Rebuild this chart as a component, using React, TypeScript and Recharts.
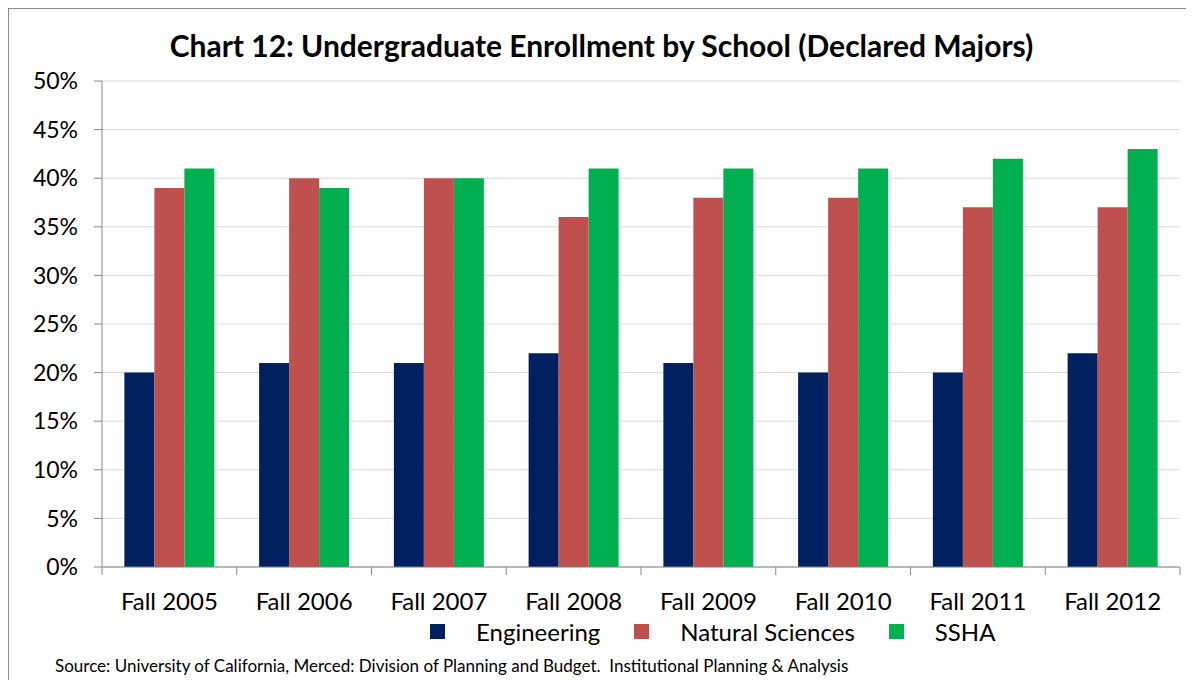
import { Bar, BarChart, CartesianGrid, Legend, XAxis, YAxis } from "recharts";

const categories = ["Fall 2005", "Fall 2006", "Fall 2007", "Fall 2008", "Fall 2009", "Fall 2010", "Fall 2011", "Fall 2012"];
const engineering = [20, 21, 21, 22, 21, 20, 20, 22];
const naturalSciences = [39, 40, 40, 36, 38, 38, 37, 37];
const ssha = [41, 39, 40, 41, 41, 41, 42, 43];
const yTicks = [0, 5, 10, 15, 20, 25, 30, 35, 40, 45, 50];

const series = [
  { key: "engineering", name: "Engineering", color: "#002060" },
  { key: "naturalSciences", name: "Natural Sciences", color: "#C0504D" },
  { key: "ssha", name: "SSHA", color: "#00B050" },
];

const data = categories.map((c, i) => ({
  year: c,
  engineering: engineering[i],
  naturalSciences: naturalSciences[i],
  ssha: ssha[i],
}));

const FONT = "Lato, 'Noto Sans', sans-serif";

// category label plus tick marks on the band edges, like Excel
function CategoryTick(props: any) {
  const { x, y, payload, index, visibleTicksCount } = props;
  const half = payload.offset || 0;
  const last = index === (visibleTicksCount ?? categories.length) - 1;
  return (
    <g>
      <line x1={x - half} x2={x - half} y1={y} y2={y + 8} stroke="#868686" />
      {last && <line x1={x + half} x2={x + half} y1={y} y2={y + 8} stroke="#868686" />}
      <text x={x} y={y + 43} textAnchor="middle" fontSize={24} fill="#000" fontFamily={FONT}>
        {payload.value}
      </text>
    </g>
  );
}

function LegendBox() {
  return (
    <div style={{ display: "flex", alignItems: "center", height: 40, paddingLeft: 421, fontFamily: FONT, fontSize: 24, color: "#000" }}>
      {series.map((s) => (
        <div key={s.key} style={{ display: "flex", alignItems: "center", marginRight: 34 }}>
          <span style={{ width: 15, height: 15, background: s.color, display: "inline-block", marginRight: 31 }} />
          <span>{s.name}</span>
        </div>
      ))}
    </div>
  );
}

export default function App() {
  return (
    <div
      style={{
        position: "relative",
        width: 1185,
        height: 671,
        borderLeft: "1px solid #8c8c8c",
        borderTop: "1px solid #8c8c8c",
        background: "#fff",
        fontFamily: FONT,
      }}
    >
      <div
        style={{
          position: "absolute",
          top: 18,
          left: 0,
          width: "100%",
          textAlign: "center",
          fontSize: 30,
          fontWeight: 700,
          color: "#000",
        }}
      >
        Chart 12: Undergraduate Enrollment by School (Declared Majors)
      </div>
      <BarChart
        width={1185}
        height={671}
        data={data}
        margin={{ top: 72, right: 14, left: 0, bottom: 29 }}
        barCategoryGap="16.6%"
        barGap={0}
      >
        <CartesianGrid vertical={false} stroke="#d9d9d9" />
        <XAxis
          dataKey="year"
          height={44}
          tickLine={false}
          tickSize={0}
          tickMargin={0}
          interval={0}
          axisLine={{ stroke: "#868686" }}
          tick={<CategoryTick />}
        />
        <YAxis
          domain={[0, 50]}
          ticks={yTicks}
          width={93}
          tickSize={8}
          tickMargin={16}
          axisLine={{ stroke: "#868686" }}
          tickLine={{ stroke: "#868686" }}
          tickFormatter={(v) => `${v}%`}
          tick={{ fontSize: 23, fill: "#000", fontFamily: FONT }}
          interval={0}
        />
        <Legend verticalAlign="bottom" content={() => <LegendBox />} />
        {series.map((s) => (
          <Bar key={s.key} dataKey={s.key} name={s.name} fill={s.color} isAnimationActive={false} />
        ))}
      </BarChart>
      <div style={{ position: "absolute", top: 646, left: 46, fontSize: 17, color: "#000" }}>
        Source: University of California, Merced: Division of Planning and Budget.&nbsp; Institutional Planning &amp; Analysis
      </div>
    </div>
  );
}
